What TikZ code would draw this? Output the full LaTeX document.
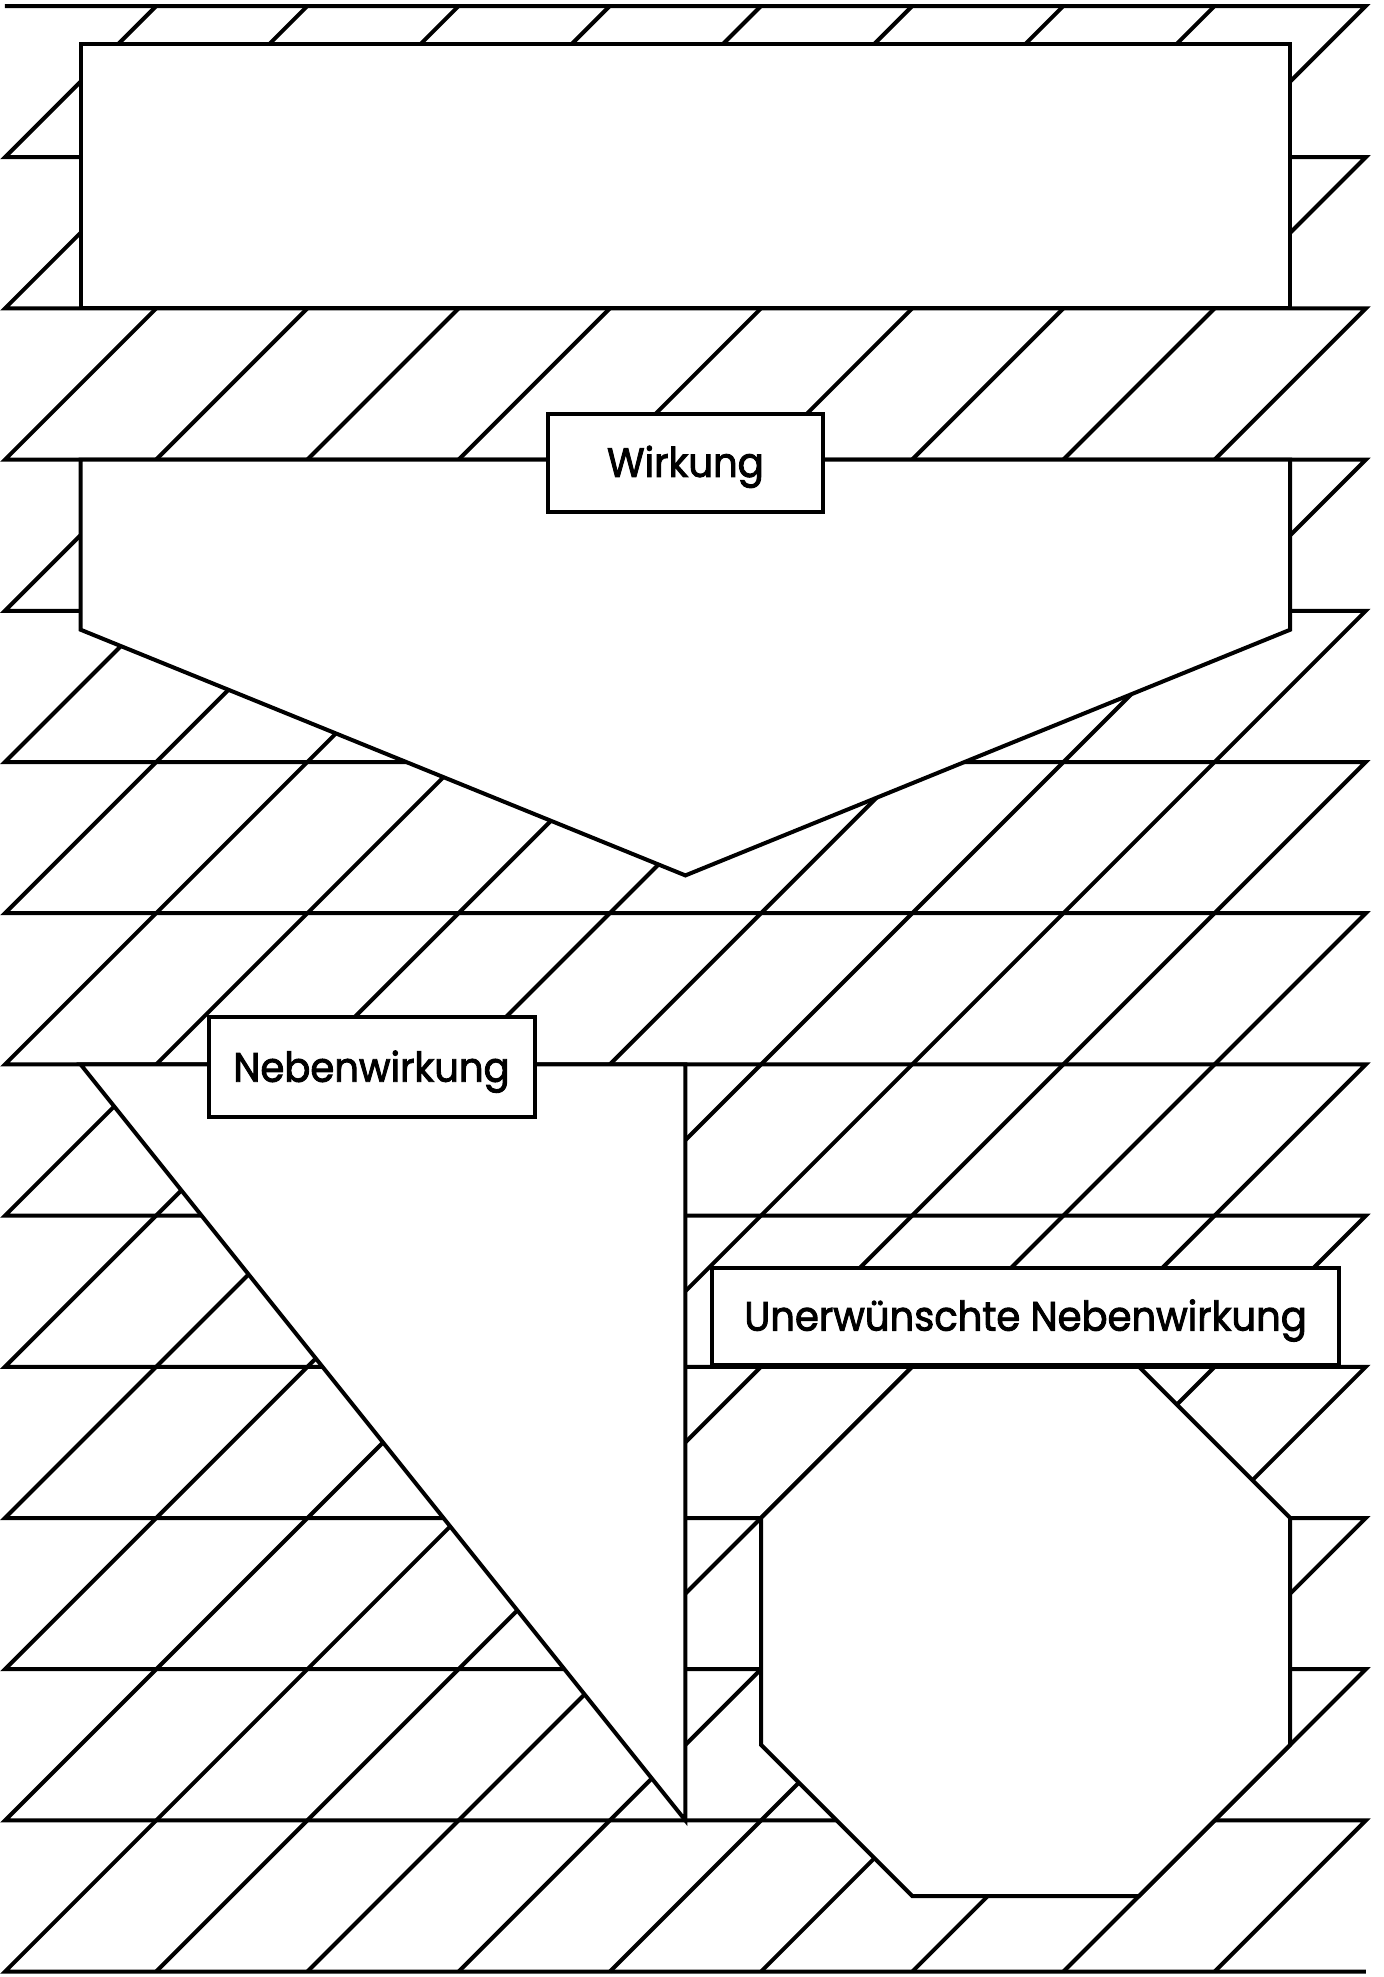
\documentclass[tikz,border=0pt]{standalone}
\usepackage{fontspec}
\setmainfont{Poppins}[FakeBold=2.2, FakeStretch=0.94]
\begin{document}
\begin{tikzpicture}[x=151.2pt,y=-151.2pt,
  bgline/.style={line width=4pt, line join=miter},
  panel/.style={draw, fill=white, line width=4pt, line join=miter},
  lbl/.style={draw, fill=white, line width=4pt, inner sep=0pt,
    text height=28.6pt, text depth=0pt,
    font=\fontsize{41}{48}\selectfont}]
\useasboundingbox (-0.03307,-0.0397) rectangle (9.1138,13.0357);
% background bands
\draw[bgline] (0,0) -- (9,0) -- (8,1);
\foreach \i in {1,...,12} {
  \draw[bgline] (1,\i-1) -- (0,\i) -- (9,\i) -- (8,\i+1);
}
\draw[bgline] (1,12) -- (0,13) -- (9,13);
\foreach \r in {0,...,12} {
  \foreach \k in {1,...,7} {
    \draw[bgline] (\k,\r+1) -- (\k+1,\r);
  }
}
% panels
\draw[panel] (0.5,0.25) rectangle (8.5,2);
\draw[panel] (0.5,3) -- (8.5,3) -- (8.5,4.125) -- (4.5,5.75) -- (0.5,4.125) -- cycle;
\draw[panel] (0.5,7) -- (4.5,7) -- (4.5,12) -- cycle;
\draw[panel] (5,10) -- (6,9) -- (7.5,9) -- (8.5,10) -- (8.5,11.5) -- (7.5,12.5) -- (6,12.5) -- (5,11.5) -- cycle;
% labels
\node[lbl, minimum width=275pt, minimum height=98pt] (wirkung) at (4.5,3.02) {Wirkung};
\node[lbl, minimum width=326pt, minimum height=100pt] (neben) at (2.424,7.02) {Nebenwirkung};
\node[lbl, minimum width=627pt, minimum height=97pt, anchor=south] (unerw) at (6.75,9) {Unerwünschte Nebenwirkung};
\end{tikzpicture}
\end{document}
